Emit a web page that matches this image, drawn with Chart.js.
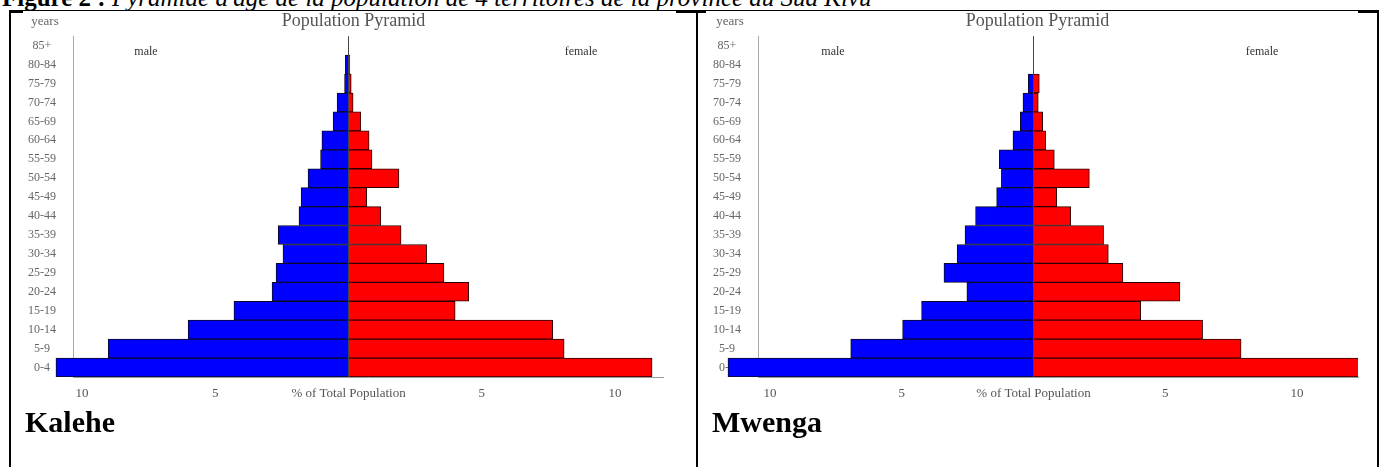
<!DOCTYPE html>
<html>
<head>
<meta charset="utf-8">
<script src="https://cdn.jsdelivr.net/npm/chart.js@4/dist/chart.umd.min.js"></script>
<style>
  body { margin: 0; background: #fff; width: 1385px; height: 467px; overflow: hidden; position: relative; font-family: "Liberation Serif", serif; }
  .fig-title { position: absolute; left: 2px; top: -15px; font-size: 25px; line-height: 25px; white-space: nowrap; color: #000; }
  .line { position: absolute; background: #000; }
  .panel-name { position: absolute; top: 405px; font-size: 30px; font-weight: bold; color: #000; }
  canvas { position: absolute; }
</style>
</head>
<body>
<div class="fig-title"><b>Figure 2 : </b><i>Pyramide d'âge de la population de 4 territoires de la province du Sud Kivu</i></div>

<!-- table frame -->
<div class="line" style="left:9px; top:10px; width:1370px; height:1px;"></div>
<div class="line" style="left:9px; top:10px; width:14px; height:3px;"></div>
<div class="line" style="left:676px; top:10px; width:30px; height:3px;"></div>
<div class="line" style="left:1358px; top:10px; width:21px; height:3px;"></div>
<div class="line" style="left:9px; top:10px; width:2px; height:457px;"></div>
<div class="line" style="left:696px; top:10px; width:2px; height:457px;"></div>
<div class="line" style="left:1377px; top:10px; width:2px; height:457px;"></div>

<canvas id="kalehe" width="685" height="455" style="left:11px; top:12px;"></canvas>
<canvas id="mwenga" width="679" height="455" style="left:698px; top:12px;"></canvas>

<div class="panel-name" style="left:25px;">Kalehe</div>
<div class="panel-name" style="left:712px;">Mwenga</div>

<script>
// age groups, top to bottom
const ageGroups = ['85+', '80-84', '75-79', '70-74', '65-69', '60-64', '55-59', '50-54', '45-49',
    '40-44', '35-39', '30-34', '25-29', '20-24', '15-19', '10-14', '5-9', '0-4'];

// % of total population
const kaleheMale = [0, 0.12, 0.15, 0.43, 0.58, 1.0, 1.05, 1.52, 1.78,
    1.86, 2.64, 2.46, 2.72, 2.87, 4.30, 6.02, 9.02, 10.98];
const kaleheFemale = [0, 0.05, 0.1, 0.17, 0.46, 0.77, 0.88, 1.89, 0.68,
    1.21, 1.97, 2.93, 3.58, 4.51, 4.0, 7.66, 8.09, 11.39];

const mwengaMale = [0, 0, 0.2, 0.4, 0.5, 0.78, 1.3, 1.22, 1.4,
    2.2, 2.6, 2.9, 3.4, 2.53, 4.25, 4.97, 6.94, 11.6];
const mwengaFemale = [0, 0, 0.22, 0.18, 0.35, 0.46, 0.79, 2.12, 0.88,
    1.41, 2.66, 2.84, 3.39, 5.56, 4.07, 6.42, 7.88, 12.6];

const xTicks = [-10, -5, 0, 5, 10];

const serif = '"Liberation Serif", "Times New Roman", serif';

// texts drawn around the plot: title, "years", "male", "female"
const pyramidText = {
    id: 'pyramidText',
    afterDraw(chart) {
        const { ctx, width, chartArea } = chart;
        ctx.save();
        ctx.textAlign = 'center';
        ctx.textBaseline = 'middle';
        ctx.fillStyle = '#555';
        ctx.font = '18px ' + serif;
        ctx.fillText('Population Pyramid', width / 2, 9);
        ctx.fillStyle = '#666';
        ctx.font = '13px ' + serif;
        ctx.fillText('years', chartArea.left - 28, 10);
        ctx.fillStyle = '#333';
        ctx.font = '12px ' + serif;
        ctx.fillText('male', 135, 40);
        ctx.fillText('female', width - 115, 40);
        ctx.restore();
    }
};

function makePyramid(id, male, female, xMin, xMax, axisWidth, padRight) {
    const ctx = document.getElementById(id).getContext('2d');
    return new Chart(ctx, {
        type: 'bar',
        data: {
            labels: ageGroups,
            datasets: [{
                label: 'male',
                data: male.map(v => -v),
                backgroundColor: '#0000ff',
                borderColor: '#0a0a20',
                borderWidth: 1,
                categoryPercentage: 1,
                barPercentage: 1,
                clip: { left: false, top: 0, right: 0, bottom: 0 }
            }, {
                label: 'female',
                data: female,
                backgroundColor: '#ff0000',
                borderColor: '#2a0000',
                borderWidth: 1,
                categoryPercentage: 1,
                barPercentage: 1,
                clip: { left: false, top: 0, right: 0, bottom: 0 }
            }]
        },
        options: {
            indexAxis: 'y',
            responsive: false,
            animation: false,
            devicePixelRatio: 1,
            layout: { padding: { left: 0, top: 23, right: padRight, bottom: 50 } },
            plugins: {
                legend: { display: false },
                title: { display: false },
                tooltip: { enabled: false }
            },
            scales: {
                x: {
                    stacked: true,
                    min: xMin,
                    max: xMax,
                    grid: {
                        drawTicks: false,
                        color: c => (c.tick && c.tick.value === 0) ? '#444' : 'rgba(0,0,0,0)'
                    },
                    border: { display: true, color: '#999' },
                    afterBuildTicks: s => { s.ticks = xTicks.map(v => ({ value: v })); },
                    afterFit: s => { s.height = 40; },
                    ticks: {
                        autoSkip: false,
                        maxRotation: 0,
                        padding: 9,
                        color: '#555',
                        font: { family: serif, size: 13 },
                        callback: v => v === 0 ? '% of Total Population' : Math.abs(v)
                    }
                },
                y: {
                    stacked: true,
                    grid: { display: false, drawTicks: false },
                    border: { display: true, color: '#aaa' },
                    afterFit: s => { s.width = axisWidth; },
                    ticks: {
                        crossAlign: 'center',
                        padding: 17,
                        color: '#666',
                        font: { family: serif, size: 12 }
                    }
                }
            }
        },
        plugins: [pyramidText]
    });
}

makePyramid('kalehe', kaleheMale, kaleheFemale, -10.34, 11.80, 62, 33);
makePyramid('mwenga', mwengaMale, mwengaFemale, -10.46, 12.32, 60, 19);
</script>
</body>
</html>
